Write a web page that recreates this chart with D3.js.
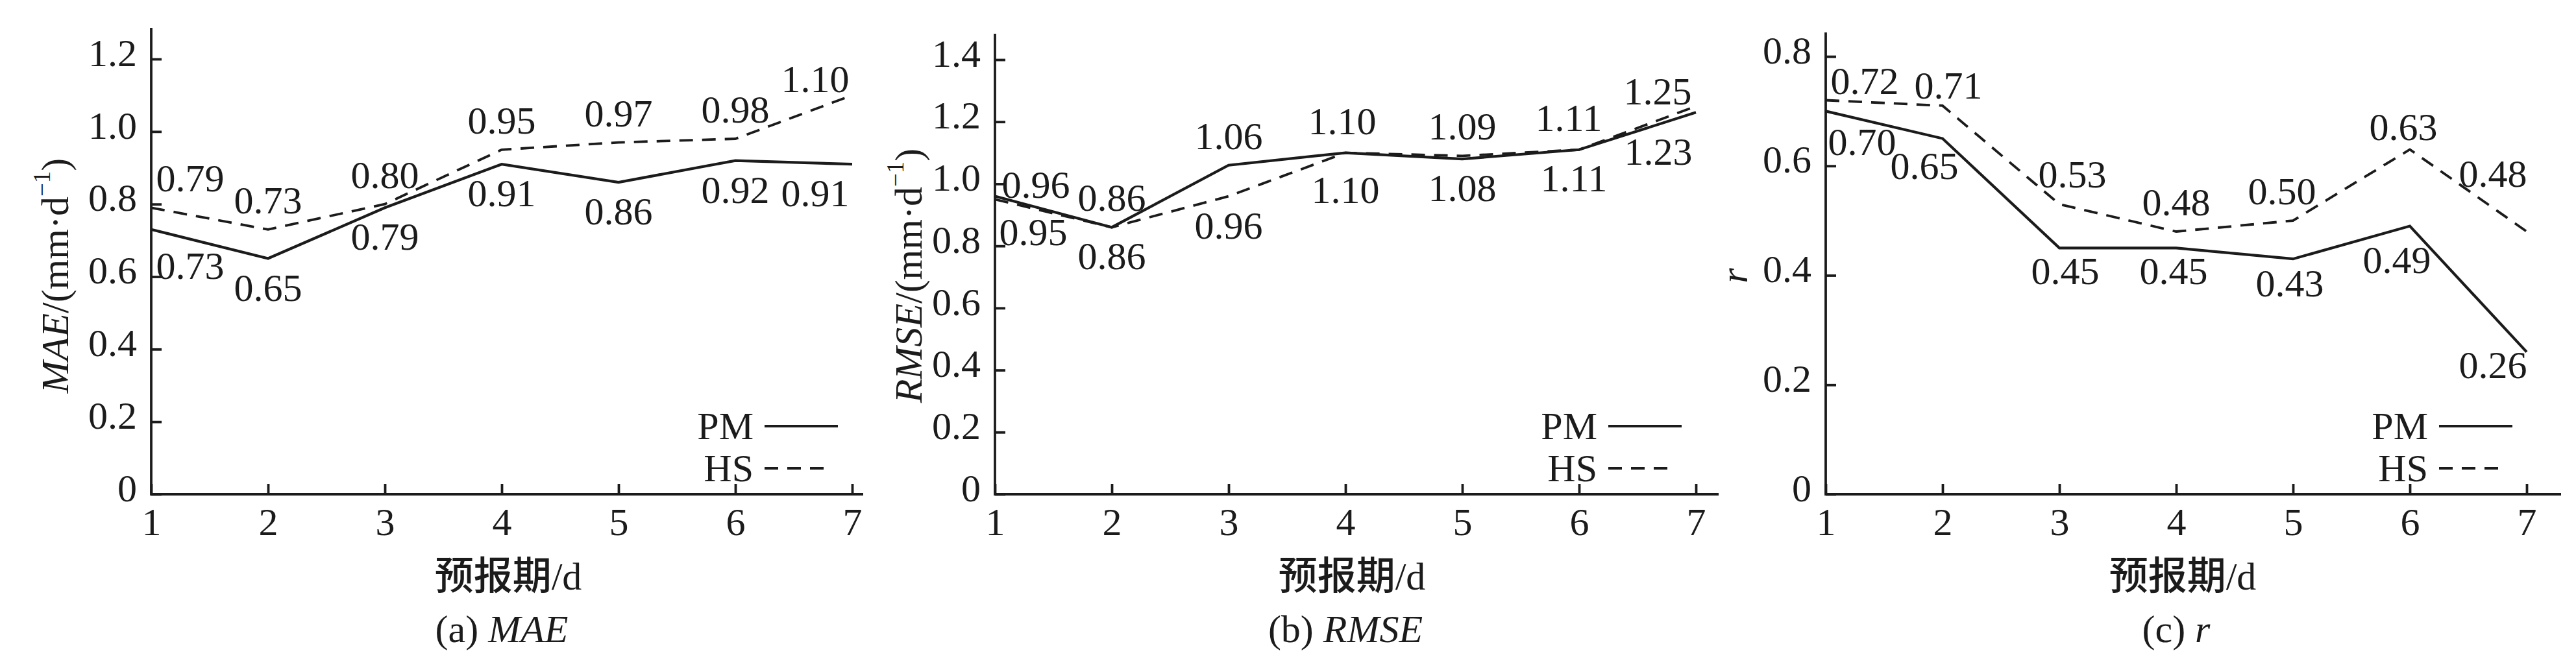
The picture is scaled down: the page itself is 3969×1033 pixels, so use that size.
<!DOCTYPE html>
<html>
<head>
<meta charset="utf-8">
<script src="https://cdn.jsdelivr.net/npm/d3@7"></script>
<style>
  html, body { margin: 0; padding: 0; background: #fff; }
  svg { display: block; }
  .num { font-family: "Liberation Serif", "Times New Roman", serif; }
  .cjk { font-family: "Noto Sans CJK SC", sans-serif; }
</style>
</head>
<body>
<div id="chart"></div>
<script>
// forecast days and the three metrics for both methods
var days = [1, 2, 3, 4, 5, 6, 7];
var seriesNames = ["PM", "HS"];

var maePM = [0.73, 0.65, 0.79, 0.91, 0.86, 0.92, 0.91];
var maeHS = [0.79, 0.73, 0.80, 0.95, 0.97, 0.98, 1.10];

var rmsePM = [0.96, 0.86, 1.06, 1.10, 1.08, 1.11, 1.23];
var rmseHS = [0.95, 0.86, 0.96, 1.10, 1.09, 1.11, 1.25];

var rPM = [0.70, 0.65, 0.45, 0.45, 0.43, 0.49, 0.26];
var rHS = [0.72, 0.71, 0.53, 0.48, 0.50, 0.63, 0.48];

var maeTicks = [0, 0.2, 0.4, 0.6, 0.8, 1.0, 1.2];
var rmseTicks = [0, 0.2, 0.4, 0.6, 0.8, 1.0, 1.2, 1.4];
var rTicks = [0, 0.2, 0.4, 0.6, 0.8];

var xTitle = "预报期";
var captionLetters = ["(a)", "(b)", "(c)"];
var metricNames = ["MAE", "RMSE", "r"];

// layout (pixels)
var W = 3969, H = 1033;
var baseY = 762;      // y of value 0
var xSpan = 1080;     // 1 -> 7
var fs = 60;
var ink = "#1b1b1b";

var panels = [
    {pm: maePM, hs: maeHS, ticks: maeTicks, x0: 233, top: 43, topTickY: 91, xEnd: 1330, titleX: 85, unit: true},
    {pm: rmsePM, hs: rmseHS, ticks: rmseTicks, x0: 1533, top: 52, topTickY: 92, xEnd: 2648, titleX: 1400, unit: true},
    {pm: rPM, hs: rHS, ticks: rTicks, x0: 2813, top: 50, topTickY: 87, xEnd: 3946, titleX: 2672, unit: false}
];

// label nudges [dx, dy] relative to point, for labels that sit off the default spot
var nudge = {
    "0-HS-6": [-57, -25], "0-PM-0": [60, 56],
    "1-PM-0": [63, -18], "1-HS-0": [59, 51], "1-HS-6": [-59, -23], "1-PM-6": [-58, 61], "1-HS-3": [0, 57],
    "1-PM-3": [-5, -49], "1-PM-5": [-16, -49], "1-HS-5": [-8, 44],
    "2-HS-0": [60, -30], "2-HS-1": [9, -31], "2-HS-2": [20, -46], "2-HS-4": [-17, -45], "2-HS-5": [-10, -34],
    "2-HS-6": [-52, -89], "2-PM-6": [-52, 20], "2-PM-1": [-28, 42], "2-PM-5": [-20, 52],
    "2-PM-0": [56, 48], "2-PM-2": [9, 36], "2-PM-3": [-4, 36], "2-PM-4": [-5, 38]
};

var svg = d3.select("#chart").append("svg")
    .attr("width", W)
    .attr("height", H)
    .attr("viewBox", "0 0 " + W + " " + H);

svg.append("rect").attr("width", W).attr("height", H).attr("fill", "#fff");

panels.forEach(function(p, pi) {
    var topVal = p.ticks[p.ticks.length - 1];
    var x = d3.scaleLinear().domain([1, 7]).range([p.x0, p.x0 + xSpan]);
    var y = d3.scaleLinear().domain([0, topVal]).range([baseY, p.topTickY]);

    var g = svg.append("g");

    // y axis
    var yAxis = g.append("g")
        .attr("transform", "translate(" + p.x0 + ",0)")
        .call(d3.axisLeft(y)
            .tickValues(p.ticks)
            .tickSizeInner(-16)
            .tickSizeOuter(0)
            .tickPadding(22)
            .tickFormat(function(d) { return d === 0 ? "0" : d.toFixed(1); }));
    yAxis.select(".domain").remove();
    yAxis.selectAll("line").attr("stroke", ink).attr("stroke-width", 3.8);
    yAxis.selectAll("text").attr("class", "num").attr("font-size", fs).attr("fill", ink).attr("dy", "0.17em");

    // x axis
    var xAxis = g.append("g")
        .attr("transform", "translate(0," + baseY + ")")
        .call(d3.axisBottom(x)
            .tickValues(days)
            .tickSizeInner(-16)
            .tickSizeOuter(0)
            .tickPadding(20)
            .tickFormat(d3.format("d")));
    xAxis.select(".domain").remove();
    xAxis.selectAll("line").attr("stroke", ink).attr("stroke-width", 3.8);
    xAxis.selectAll("text").attr("class", "num").attr("font-size", fs).attr("fill", ink);

    // axis lines
    g.append("line").attr("x1", p.x0).attr("x2", p.x0).attr("y1", p.top).attr("y2", baseY + 2)
        .attr("stroke", ink).attr("stroke-width", 3.8);
    g.append("line").attr("x1", p.x0).attr("x2", p.xEnd).attr("y1", baseY).attr("y2", baseY)
        .attr("stroke", ink).attr("stroke-width", 3.8);

    // series lines
    var line = d3.line()
        .x(function(d, i) { return x(days[i]); })
        .y(function(d) { return y(d); });

    g.append("path").datum(p.hs)
        .attr("d", line).attr("fill", "none").attr("stroke", ink)
        .attr("stroke-width", 3.8).attr("stroke-dasharray", "21,14");
    g.append("path").datum(p.pm)
        .attr("d", line).attr("fill", "none").attr("stroke", ink)
        .attr("stroke-width", 4.2);

    // value labels
    [["PM", p.pm, p.hs], ["HS", p.hs, p.pm]].forEach(function(s) {
        g.append("g").selectAll("text")
            .data(s[1])
            .enter().append("text")
            .attr("class", "num")
            .attr("font-size", fs)
            .attr("fill", ink)
            .attr("text-anchor", "middle")
            .attr("dominant-baseline", "central")
            .attr("x", function(d, i) {
                var k = pi + "-" + s[0] + "-" + i;
                var dx = nudge[k] ? nudge[k][0] : (i === 0 ? 60 : (i === 6 ? -57 : 0));
                return x(days[i]) + dx;
            })
            .attr("y", function(d, i) {
                var k = pi + "-" + s[0] + "-" + i;
                var other = s[2][i];
                var above = d > other || (d === other && s[0] === "PM");
                var dy = nudge[k] ? nudge[k][1] : (above ? -45 : 45);
                return y(d) + dy;
            })
            .text(function(d) { return d.toFixed(2); });
    });

    // legend
    var legX = p.x0 + xSpan - 22;
    [{name: seriesNames[0], ly: baseY - 105, dash: null}, {name: seriesNames[1], ly: baseY - 40, dash: "21,14"}].forEach(function(l) {
        g.append("text")
            .attr("class", "num")
            .attr("font-size", fs)
            .attr("fill", ink)
            .attr("text-anchor", "end")
            .attr("x", legX - 130)
            .attr("y", l.ly + 20)
            .text(l.name);
        g.append("line")
            .attr("x1", legX - 113).attr("x2", l.dash ? legX - 10 : legX)
            .attr("y1", l.ly).attr("y2", l.ly)
            .attr("stroke", ink).attr("stroke-width", 3.8)
            .attr("stroke-dasharray", l.dash);
    });

    // x title
    var cx = p.x0 + xSpan / 2 + 10;
    var xt = g.append("text")
        .attr("x", cx).attr("y", 909)
        .attr("text-anchor", "middle")
        .attr("font-size", fs)
        .attr("fill", ink);
    xt.append("tspan").attr("class", "cjk").attr("font-weight", 500).text(xTitle);
    xt.append("tspan").attr("class", "num").text("/d");

    // y title
    var yt = g.append("text")
        .attr("class", "num")
        .attr("transform", "translate(" + p.titleX + ",425) rotate(-90)")
        .attr("text-anchor", "middle")
        .attr("dominant-baseline", "central")
        .attr("font-size", fs)
        .attr("fill", ink);
    yt.append("tspan").attr("font-style", "italic").text(metricNames[pi]);
    if (p.unit) {
        yt.append("tspan").text("/(mm\u00b7d");
        yt.append("tspan").attr("font-size", 37).attr("dy", -21).text("\u22121");
        yt.append("tspan").attr("dy", 21).text(")");
    }

    // caption
    var cap = g.append("text")
        .attr("class", "num")
        .attr("x", p.x0 + xSpan / 2)
        .attr("y", 990)
        .attr("text-anchor", "middle")
        .attr("font-size", fs)
        .attr("fill", ink);
    cap.append("tspan").text(captionLetters[pi] + " ");
    cap.append("tspan").attr("font-style", "italic").text(metricNames[pi]);
});
</script>
</body>
</html>
